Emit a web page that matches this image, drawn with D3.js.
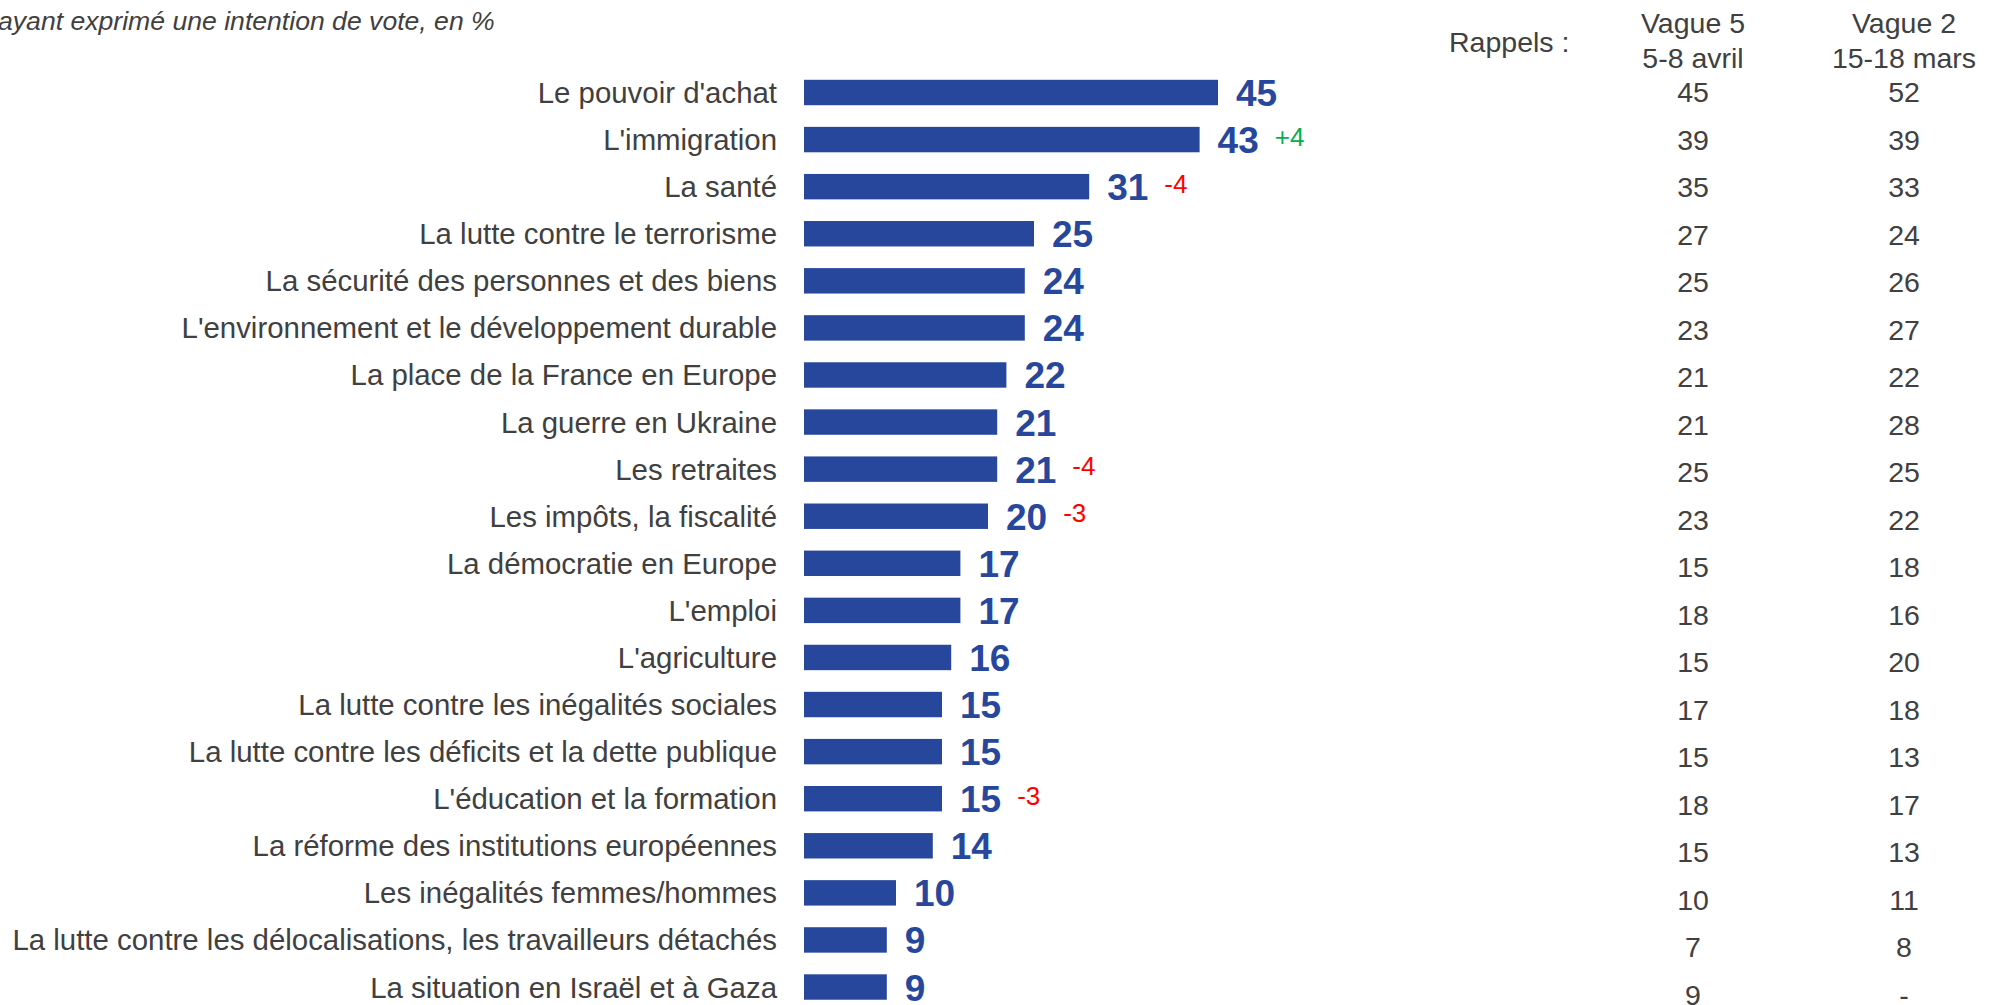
<!doctype html>
<html lang="fr">
<head>
<meta charset="UTF-8">
<title>Enjeux du vote</title>
<style>
  body { margin: 0; background: #fff; }
  svg { display: block; font-family: "Liberation Sans", Arial, sans-serif; }
  .label { fill: #404040; font-size: 29.4px; }
  .bar { fill: #26479c; }
  .value { fill: #26479c; font-size: 37px; font-weight: bold; }
  .delta { font-size: 26px; }
  .rappel { fill: #404040; font-size: 28.5px; }
</style>
</head>
<body>
<svg width="2005" height="1005"></svg>
<script src="https://cdn.jsdelivr.net/npm/d3@7"></script>
<script>
var categories = [
  "Le pouvoir d'achat",
  "L'immigration",
  "La santé",
  "La lutte contre le terrorisme",
  "La sécurité des personnes et des biens",
  "L'environnement et le développement durable",
  "La place de la France en Europe",
  "La guerre en Ukraine",
  "Les retraites",
  "Les impôts, la fiscalité",
  "La démocratie en Europe",
  "L'emploi",
  "L'agriculture",
  "La lutte contre les inégalités sociales",
  "La lutte contre les déficits et la dette publique",
  "L'éducation et la formation",
  "La réforme des institutions européennes",
  "Les inégalités femmes/hommes",
  "La lutte contre les délocalisations, les travailleurs détachés",
  "La situation en Israël et à Gaza"
];
var values = [45, 43, 31, 25, 24, 24, 22, 21, 21, 20, 17, 17, 16, 15, 15, 15, 14, 10, 9, 9];
var deltas = ["", "+4", "-4", "", "", "", "", "", "-4", "-3", "", "", "", "", "", "-3", "", "", "", ""];
var vague5 = ["45", "39", "35", "27", "25", "23", "21", "21", "25", "23", "15", "18", "15", "17", "15", "18", "15", "10", "7", "9"];
var vague2 = ["52", "39", "33", "24", "26", "27", "22", "28", "25", "22", "18", "16", "20", "18", "13", "17", "13", "11", "8", "-"];
var columnHeads = [["Vague 5", "5-8 avril"], ["Vague 2", "15-18 mars"]];
var subtitle = "ayant exprimé une intention de vote, en %";

var svg = d3.select('svg');
var data = categories.map(function(c, i) {
  return { cat: c, v: values[i], d: deltas[i], r5: vague5[i], r2: vague2[i] };
});

var x = d3.scaleLinear().domain([0, 45]).range([804, 1218]);
var y = d3.scaleBand()
  .domain(categories)
  .range([68.96, 68.96 + 20 * 47.08])
  .paddingInner(0.46)
  .paddingOuter(0.23);
var yr = d3.scalePoint().domain(categories).range([92, 995]);
var colX = d3.scalePoint().domain([0, 1]).range([1693, 1904]);

function mid(d) { return y(d.cat) + y.bandwidth() / 2; }

svg.append('text')
  .attr('x', -2).attr('y', 30)
  .attr('font-size', '26.6px').attr('font-style', 'italic').attr('fill', '#404040')
  .text(subtitle);

svg.selectAll('.label')
  .data(data)
  .enter().append('text')
  .attr('class', 'label')
  .attr('x', 777)
  .attr('y', function(d) { return mid(d) + 10.5; })
  .attr('text-anchor', 'end')
  .text(function(d) { return d.cat; });

svg.selectAll('.bar')
  .data(data)
  .enter().append('rect')
  .attr('class', 'bar')
  .attr('x', x(0))
  .attr('y', function(d) { return y(d.cat); })
  .attr('width', function(d) { return x(d.v) - x(0); })
  .attr('height', y.bandwidth());

var vals = svg.selectAll('.value')
  .data(data)
  .enter().append('text')
  .attr('class', 'value')
  .attr('x', function(d) { return x(d.v) + 18; })
  .attr('y', function(d) { return mid(d) + 13.5; })
  .text(function(d) { return d.v; });

vals.each(function(d) {
  if (!d.d) return;
  var end = x(d.v) + 18 + this.getComputedTextLength();
  svg.append('text')
    .attr('class', 'delta')
    .attr('x', end + 16)
    .attr('y', mid(d) + 6)
    .attr('fill', d.d.charAt(0) === '+' ? '#00b050' : '#ff0000')
    .text(d.d);
});

// rappels
svg.append('text').attr('class', 'rappel')
  .attr('x', 1449).attr('y', 52)
  .text('Rappels :');

columnHeads.forEach(function(h, k) {
  svg.append('text').attr('class', 'rappel')
    .attr('x', colX(k)).attr('y', 33).attr('text-anchor', 'middle').text(h[0]);
  svg.append('text').attr('class', 'rappel')
    .attr('x', colX(k)).attr('y', 68).attr('text-anchor', 'middle').text(h[1]);
});

['r5', 'r2'].forEach(function(key, k) {
  svg.selectAll('.col' + k)
    .data(data)
    .enter().append('text')
    .attr('class', 'rappel col' + k)
    .attr('x', colX(k))
    .attr('y', function(d) { return yr(d.cat) + 10; })
    .attr('text-anchor', 'middle')
    .text(function(d) { return d[key]; });
});
</script>
</body>
</html>
